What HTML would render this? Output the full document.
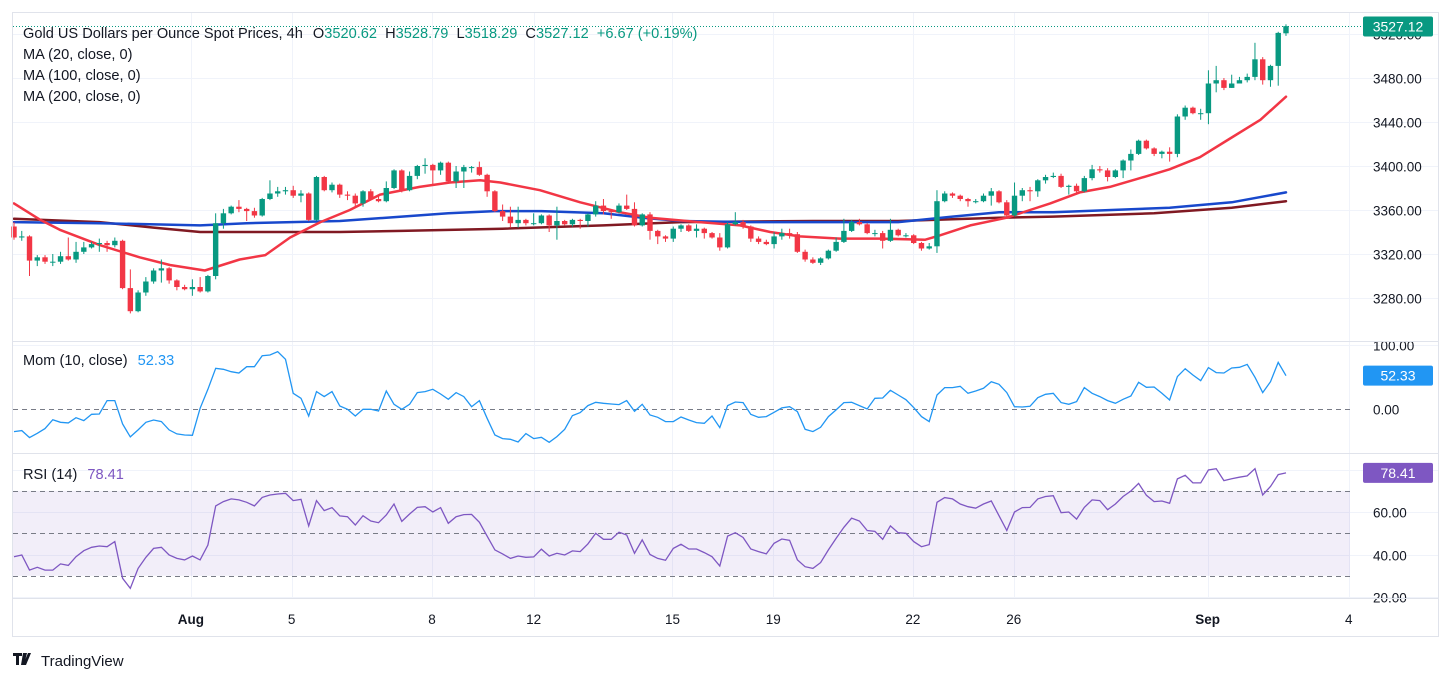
<!DOCTYPE html>
<html><head><meta charset="utf-8"><style>
html,body{margin:0;padding:0;background:#fff;}
svg{display:block;font-family:"Liberation Sans",sans-serif;}
</style></head><body>
<svg id="c" width="1451" height="681" viewBox="0 0 1451 681" xmlns="http://www.w3.org/2000/svg">
<rect x="0" y="0" width="1451" height="681" fill="#fff"/>
<g id="grid"></g>
<g id="rsiband"></g>
<g id="mas"></g>
<g id="candles"></g>
<g id="ind"></g>
<g id="axes"></g>
<rect x="12.5" y="12.5" width="1426" height="624" fill="none" stroke="#e0e3eb"/>
<line x1="12" y1="341.5" x2="1439" y2="341.5" stroke="#e0e3eb"/>
<line x1="12" y1="453.5" x2="1439" y2="453.5" stroke="#e0e3eb"/>
<line x1="12" y1="598.5" x2="1439" y2="598.5" stroke="#e0e3eb"/>
<g font-size="14.6" fill="#131722">
<text x="23" y="38">Gold US Dollars per Ounce Spot Prices, 4h <tspan dx="6">O</tspan><tspan fill="#089981">3520.62</tspan> <tspan dx="4">H</tspan><tspan fill="#089981">3528.79</tspan> <tspan dx="4">L</tspan><tspan fill="#089981">3518.29</tspan> <tspan dx="4">C</tspan><tspan fill="#089981">3527.12</tspan> <tspan dx="4" fill="#089981">+6.67 (+0.19%)</tspan></text>
<text x="23" y="59">MA (20, close, 0)</text>
<text x="23" y="80">MA (100, close, 0)</text>
<text x="23" y="101">MA (200, close, 0)</text>
<text x="23" y="365">Mom (10, close) <tspan dx="6" fill="#2196f3">52.33</tspan></text>
<text x="23" y="479">RSI (14) <tspan dx="6" fill="#7e57c2">78.41</tspan></text>
</g>
<g>
<path d="M13 653h9v3h-3v9h-3v-9h-3z M23 653h4l-3 12h-3z M28 653h3l-5 12h-3z" fill="#131722"/>
<text x="41" y="666" font-size="15" fill="#131722">TradingView</text>
</g>
</svg>
<script>
const opens=[3345,3335,3336,3314,3317,3313,3313,3318,3315,3322,3326,3329,3330,3328,3332,3289,3268,3285,3295,3305,3307,3296,3290,3288,3290,3286,3300,3348,3357,3363,3361,3359,3355,3370,3375,3377,3378,3373,3375,3351,3390,3378,3383,3374,3373,3366,3377,3370,3368,3380,3396,3378,3391,3400,3401,3396,3403,3386,3395,3399,3399,3392,3377,3359,3354,3348,3351,3348,3348,3355,3346,3350,3347,3351,3350,3356,3364,3359,3358,3364,3361,3346,3356,3341,3336,3334,3343,3346,3341,3343,3339,3335,3326,3347,3349,3345,3334,3331,3329,3336,3339,3338,3322,3315,3312,3316,3323,3331,3341,3349,3347,3339,3339,3332,3342,3337,3337,3330,3325,3327,3368,3375,3373,3370,3368,3368,3373,3377,3367,3355,3373,3378,3377,3387,3390,3391,3381,3382,3377,3389,3397,3396,3390,3396,3405,3411,3423,3416,3411,3413,3411,3445,3453,3448,3448,3475,3478,3471,3475,3478,3481,3497,3478,3491,3520.62];
const closes=[3335,3336,3314,3317,3313,3313,3318,3315,3322,3326,3329,3330,3328,3332,3289,3268,3285,3295,3305,3307,3296,3290,3288,3290,3286,3300,3348,3357,3363,3361,3359,3355,3370,3375,3377,3378,3373,3375,3351,3390,3378,3383,3374,3373,3366,3377,3370,3368,3380,3396,3378,3391,3400,3401,3396,3403,3386,3395,3399,3399,3392,3377,3359,3354,3348,3351,3348,3348,3355,3346,3350,3347,3351,3350,3356,3364,3359,3358,3364,3361,3346,3356,3341,3336,3334,3343,3346,3341,3343,3339,3335,3326,3347,3349,3345,3334,3331,3329,3336,3339,3338,3322,3315,3312,3316,3323,3331,3341,3349,3347,3339,3339,3332,3342,3337,3337,3330,3325,3327,3368,3375,3373,3370,3368,3368,3373,3377,3367,3355,3373,3378,3377,3387,3390,3391,3381,3382,3377,3389,3397,3396,3390,3396,3405,3411,3423,3416,3411,3413,3411,3445,3453,3448,3448,3475,3478,3471,3475,3478,3481,3497,3478,3491,3521,3527.12];
const highs=[3349,3341,3337,3319,3319,3320,3322,3335,3331,3331,3331,3334,3332,3335,3333,3306,3287,3299,3307,3315,3308,3297,3292,3297,3299,3301,3357,3361,3364,3369,3362,3362,3371,3387,3381,3381,3382,3378,3376,3391,3391,3385,3384,3377,3375,3378,3379,3373,3386,3397,3397,3395,3401,3407,3402,3404,3404,3400,3401,3400,3404,3393,3378,3365,3363,3363,3352,3357,3356,3356,3363,3351,3352,3352,3357,3368,3370,3360,3366,3374,3367,3357,3358,3342,3337,3345,3347,3347,3347,3344,3340,3339,3349,3358,3351,3346,3336,3333,3340,3343,3343,3340,3324,3317,3317,3324,3335,3352,3351,3352,3348,3342,3341,3352,3343,3339,3338,3331,3330,3378,3377,3376,3374,3371,3370,3375,3380,3378,3369,3385,3380,3381,3388,3392,3394,3393,3383,3384,3391,3401,3400,3398,3397,3406,3415,3424,3424,3417,3414,3417,3447,3455,3454,3452,3487,3491,3480,3483,3481,3484,3512,3499,3492,3522,3528.79];
const lows=[3333,3332,3300,3309,3311,3309,3311,3314,3312,3320,3325,3322,3322,3326,3288,3266,3267,3282,3293,3294,3293,3287,3287,3282,3285,3285,3297,3343,3356,3358,3350,3353,3354,3369,3372,3374,3371,3367,3350,3350,3377,3376,3371,3369,3362,3363,3369,3367,3367,3379,3376,3377,3388,3393,3383,3392,3384,3380,3380,3394,3391,3372,3358,3350,3344,3344,3346,3346,3347,3340,3333,3346,3345,3343,3345,3354,3356,3352,3357,3360,3345,3345,3333,3329,3331,3331,3340,3340,3335,3334,3334,3323,3325,3346,3343,3331,3329,3328,3325,3333,3334,3321,3313,3311,3310,3315,3322,3330,3340,3346,3338,3336,3325,3331,3336,3335,3329,3323,3324,3321,3367,3371,3368,3363,3366,3367,3364,3366,3354,3354,3368,3368,3372,3384,3389,3380,3374,3374,3376,3387,3394,3386,3389,3389,3396,3410,3415,3409,3407,3404,3408,3442,3447,3442,3438,3467,3469,3471,3476,3476,3478,3474,3472,3473,3518.29];
const ma20Idx=[0,3.4,5.9,11.1,16.2,20.1,24.6,29.1,32.4,35.6,39.5,43.3,47.2,52.3,56.2,60.1,62.7,67.8,73,78.1,82,88.4,93.6,97.5,101.3,106.5,111.7,117.5,119.4,123.3,128,131,133.6,137.4,141.3,145.2,149,152.9,156.8,160.7,164];
const ma20Val=[3366,3351,3342,3328,3317,3310,3305,3315,3319,3335,3349,3360,3374,3381,3385,3387,3385,3378,3367,3358,3353,3349,3346,3340,3336,3334,3334,3333,3337,3346,3353,3360,3366,3376,3381,3389,3397,3408,3425,3442,3463];
const ma100Idx=[0,11,24,30,42,50,56,62,68,76,81,86,95,114,121,127,134,149,157,164];
const ma100Val=[3349,3348,3346,3348,3350,3354,3357,3359,3359,3357,3353,3350,3349,3349,3354,3358,3358,3362,3367,3376];
const ma200Idx=[0,11,18,24,37,42,50,63,76,86,103,114,127,134,147,157,164];
const ma200Val=[3352,3349,3344,3340,3340,3340,3341,3343,3346,3349,3350,3350,3353,3354,3357,3362,3368];
const mom=[-34.7,-33.2,-44,-37.3,-30,-16.1,-20.2,-21.2,-13,-17.6,-7.8,-7.3,13.5,13.5,-22.8,-43,-32.1,-20.2,-16.6,-19.2,-32.1,-38.3,-39.9,-40.4,1.6,31.1,63.7,62.2,58.5,56.5,66.3,66.3,83.4,84.4,89.6,77.7,24.9,17.1,-10.4,27.5,19.7,27.5,5.2,0,-10.4,0,0,-2.6,28.5,7.8,0,7.8,25.9,27.5,31.1,23.8,15.5,25.9,19.7,4.1,
13.5,-14,-39.9,-45.6,-46.6,-50.8,-37.8,-45.6,-43.5,-51.3,-42.5,-31.1,-9.8,-5.2,5.7,10.9,9.3,8.3,7.3,13.5,-3.1,7.8,-8.8,-12.4,-19.2,-19.2,-11.9,-16.6,-20.7,-21.8,-10.4,-28.5,5.7,11.4,10.4,-7.8,-12.4,-11.4,-4.7,2.1,4.1,-3.6,-31.1,-34.7,-28,-11.4,-1,10.4,10.9,5.7,0.5,17.1,17.6,29.5,22.3,15,2.6,-11.4,
-19.2,22.3,33.7,33.7,35.7,24.9,28.5,32.6,43,38.9,25.9,4.1,3.6,4.7,18.1,23.3,24.9,10.4,7.8,11.9,33.7,24.9,19.7,13.5,9.3,15.5,20.7,42,34.2,34.7,24.9,14.5,50.8,63.2,53.4,44.5,64.8,57,56.5,64.2,65.3,69.9,49.7,25.9,43,73,52.33];
const rsi=[39,39.8,32.7,34,32.7,32.7,35.6,34.9,39,41.8,43.4,44,43.7,46.1,28.8,24.1,33.5,38.7,42.9,43.4,39.8,38.2,37.5,39.3,37.5,44.5,62.9,64.9,66.2,65.7,64.6,62.9,66.9,68,68.5,68.8,65.4,66,53.5,65.4,60.7,62.1,58.2,57.8,53.9,58.3,55.8,55,58.6,63.8,55.6,59.1,62.2,62.5,60,62.1,54.7,57.8,58.8,58.9,
55.2,48.7,42.2,40.3,38.2,39.3,38.7,38.9,42.5,39.3,40.6,39.8,41.7,41.4,45,50,47.2,47.2,50.5,49.2,40.6,46.9,40,38.2,37.3,42.9,44.8,42.6,42.6,40.9,39,34.6,48.7,50.3,48,42.6,41.4,40.3,45.3,47.3,46.7,37.5,34.3,33.5,36.2,42.2,47.6,52.8,57.1,55.8,51.3,50.9,47.2,53.5,50.3,50,46.1,43.7,
44.7,64.6,66.8,66.2,63.8,62.5,61.8,63.8,65.2,58.3,51.3,60,62.1,62.2,66.2,67.3,67.7,59.7,60,56.7,62.2,65.7,65.4,61.1,63.8,67.3,69.9,73.5,67.9,64.9,65.2,64.1,75.6,77.3,73.7,73.7,79.8,80.4,74.8,75.7,76.4,77,80.4,68,72,77.6,78.41];
const dateTickIdx=[22.8,35.8,53.9,67,84.9,97.9,115.9,128.9,153.9,172.1];
const dateTickLabels=["Aug","5","8","12","15","19","22","26","Sep","4"];
const priceTicks=[3280,3320,3360,3400,3440,3480,3520];
const momTicks=[0,100];
const rsiTicks=[20,40,60,80];
const rsiLevels=[30,50,70];

const NS="http://www.w3.org/2000/svg";
const xs=i=>14+i*7.756;
const yP=p=>210-(p-3360)*1.1;
const yM=v=>409.3-v*0.643;
const yR=v=>533.3-(v-50)*2.125;
function el(tag,attrs,parent){const e=document.createElementNS(NS,tag);for(const k in attrs)e.setAttribute(k,attrs[k]);parent.appendChild(e);return e;}
const grid=document.getElementById('grid'),axes=document.getElementById('axes');
const gc="#f0f3fa";
dateTickIdx.forEach((t,k)=>{
  const x=Math.round(xs(t))+0.5;
  const l=el('line',{x1:x,y1:13,x2:x,y2:598,stroke:gc},grid);
  
  
  const bold=isNaN(+dateTickLabels[k]);
  const tx=el('text',{x:xs(t),y:624,'text-anchor':'middle','font-size':13.5,fill:'#131722','font-weight':bold?'bold':'normal'},axes);
  tx.textContent=dateTickLabels[k];
  
  
});
priceTicks.forEach(p=>{
  const y=Math.round(yP(p))+0.5;
  const l=el('line',{x1:13,y1:y,x2:1438,y2:y,stroke:gc},grid);
  
  
  const t=el('text',{x:1373,y:y+5,'font-size':13.5,fill:'#131722'},axes);
  t.textContent=p.toFixed(2);
  
  
});
momTicks.forEach(v=>{
  const y=Math.round(yM(v))+0.5;
  if(v!==0){const l=el('line',{x1:13,y1:y,x2:1438,y2:y,stroke:gc},grid);
  
  }
  const t=el('text',{x:1373,y:y+5,'font-size':13.5,fill:'#131722'},axes);
  t.textContent=v.toFixed(2);
  
  
});
const zl=el('line',{x1:13,y1:Math.round(yM(0))+0.5,x2:1350,y2:Math.round(yM(0))+0.5,stroke:'#787b86','stroke-dasharray':'5,4'},grid);


rsiTicks.forEach(v=>{
  const y=Math.round(yR(v))+0.5;
  const l=el('line',{x1:13,y1:y,x2:1438,y2:y,stroke:gc},grid);
  
  
  if(v<80){const t=el('text',{x:1373,y:y+5,'font-size':13.5,fill:'#131722'},axes);
  t.textContent=v.toFixed(2);
  
  }
});
const band=document.getElementById('rsiband');
const br=el('rect',{x:13,y:yR(70),width:1337,height:yR(30)-yR(70),fill:'rgba(126,87,194,0.1)'},band);


rsiLevels.forEach(v=>{
  const y=Math.round(yR(v))+0.5;
  const l=el('line',{x1:13,y1:y,x2:1350,y2:y,stroke:'#787b86','stroke-dasharray':'5,4'},band);
  
  
});
const mas=document.getElementById('mas');
function maLine(idx,val,color,name){
  const pts=idx.map((t,k)=>xs(t).toFixed(1)+','+yP(val[k]).toFixed(1)).join(' ');
  const pl=el('polyline',{points:pts,fill:'none',stroke:color,'stroke-width':2.5,'stroke-linejoin':'round','stroke-linecap':'round'},mas);
  
  
}
maLine(ma200Idx,ma200Val,'#801922','ma200-line');
maLine(ma100Idx,ma100Val,'#1848cc','ma100-line');
maLine(ma20Idx,ma20Val,'#f23645','ma20-line');
const cg=document.getElementById('candles');
closes.forEach((c,i)=>{
  const o=opens[i],up=c>=o,col=up?'#089981':'#f23645',x=xs(i);
  const w=el('line',{x1:x,y1:yP(highs[i]),x2:x,y2:yP(lows[i]),stroke:col,'stroke-width':1},cg);
  
  
  const top=yP(Math.max(o,c)),bot=yP(Math.min(o,c));
  const b=el('rect',{x:x-2.7,y:top,width:5.4,height:Math.max(1,bot-top),fill:col},cg);
  
  
});
const ig=document.getElementById('ind');
const mp=el('polyline',{points:mom.map((v,i)=>xs(i).toFixed(1)+','+yM(v).toFixed(1)).join(' '),fill:'none',stroke:'#2196f3','stroke-width':1.3},ig);


const rp=el('polyline',{points:rsi.map((v,i)=>xs(i).toFixed(1)+','+yR(v).toFixed(1)).join(' '),fill:'none',stroke:'#7e57c2','stroke-width':1.3},ig);


const lastC=closes[closes.length-1];
const ly=Math.round(yP(lastC))+0.5;
const dl=el('line',{x1:13,y1:ly,x2:1362,y2:ly,stroke:'#089981','stroke-dasharray':'1,2'},axes);


function badge(y,color,txt,name){
  const r=el('rect',{x:1363,y:y-10,width:70,height:20,rx:2,fill:color},axes);
  
  
  const t=el('text',{x:1398,y:y+5,'text-anchor':'middle','font-size':14,fill:'#fff'},axes);
  t.textContent=txt;
  
  
}
badge(ly,'#089981',lastC.toFixed(2),'last-price-badge');
badge(yM(mom[mom.length-1]),'#2196f3',mom[mom.length-1].toFixed(2),'mom-value-badge');
badge(yR(rsi[rsi.length-1]),'#7e57c2',rsi[rsi.length-1].toFixed(2),'rsi-value-badge');
</script>
</body></html>
